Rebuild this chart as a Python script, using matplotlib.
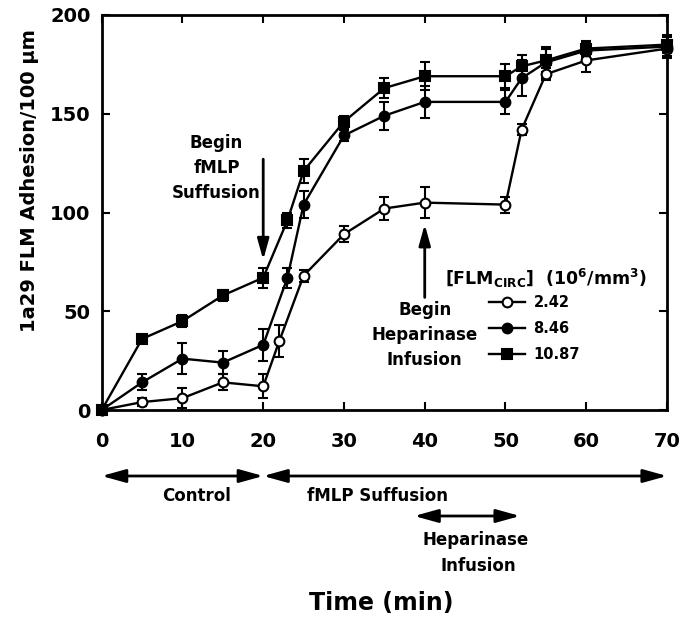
import matplotlib
matplotlib.use("Agg")
import matplotlib.pyplot as plt
import matplotlib.transforms as mtransforms
from matplotlib.lines import Line2D

plt.rcParams["font.family"] = "DejaVu Sans"
plt.rcParams["font.weight"] = "bold"
plt.rcParams["mathtext.default"] = "regular"

# time points (min) and adhesion values for each [FLM_CIRC] level
t_low = [0, 5, 10, 15, 20, 22, 25, 30, 35, 40, 50, 52, 55, 60, 70]
y_low = [0, 4, 6, 14, 12, 35, 68, 89, 102, 105, 104, 142, 170, 177, 183]
e_low = [0, 2, 5, 4, 6, 8, 3, 4, 6, 8, 4, 3, 3, 6, 4]

t_mid = [0, 5, 10, 15, 20, 23, 25, 30, 35, 40, 50, 52, 55, 60, 70]
y_mid = [0, 14, 26, 24, 33, 67, 104, 139, 149, 156, 156, 168, 176, 182, 184]
e_mid = [0, 4, 8, 6, 8, 5, 7, 3, 7, 8, 6, 9, 8, 4, 6]

t_high = [0, 5, 10, 15, 20, 23, 25, 30, 35, 40, 50, 52, 55, 60, 70]
y_high = [0, 36, 45, 58, 67, 96, 121, 146, 163, 169, 169, 174, 177, 183, 185]
e_high = [0, 2, 3, 3, 5, 4, 6, 3, 5, 7, 6, 6, 6, 4, 4]

labels = ["2.42", "8.46", "10.87"]
x_ticks = [0, 10, 20, 30, 40, 50, 60, 70]
y_ticks = [0, 50, 100, 150, 200]

W, H = 682, 624
fig = plt.figure(figsize=(W / 100, H / 100), dpi=100)
ax = fig.add_axes([101.7 / W, 1 - 410 / H, (667 - 101.7) / W, (410 - 15) / H])


def fy(py):
    return 1 - py / H


def fx(px):
    return px / W


series = [
    (t_low, y_low, e_low, "o", "white"),
    (t_mid, y_mid, e_mid, "o", "black"),
    (t_high, y_high, e_high, "s", "black"),
]
for t, y, e, m, fc in series:
    ax.errorbar(t, y, yerr=e, color="black", lw=1.7, marker=m, ms=7,
                mfc=fc, mec="black", mew=1.5, capsize=3.5, capthick=1.5,
                elinewidth=1.5, clip_on=False, zorder=3)

ax.set_xlim(0, 70)
ax.set_ylim(0, 200)
ax.set_xticks(x_ticks)
ax.set_yticks(y_ticks)
ax.tick_params(direction="in", length=6, width=1.5, top=True, right=True,
               labelsize=14)
ax.tick_params(axis="x", pad=16)
ax.tick_params(axis="y", pad=8)
for lab in ax.get_xticklabels() + ax.get_yticklabels():
    lab.set_fontweight("bold")
for s in ax.spines.values():
    s.set_linewidth(2)

fig.text(fx(30), fy(181), "1a29 FLM Adhesion/100 \u00b5m", rotation=90,
         ha="center", va="center", fontsize=14, fontweight="bold")

# in-plot annotations
ax.text(14.2, 122.5, "Begin\nfMLP\nSuffusion", ha="center", va="center",
        fontsize=12, fontweight="bold", linespacing=1.5)
ax.annotate("", xy=(20, 76), xytext=(20, 127),
            arrowprops=dict(arrowstyle="-|>,head_length=0.9,head_width=0.25",
                            mutation_scale=14, lw=2, color="black",
                            shrinkA=0, shrinkB=0))
ax.text(40, 38, "Begin\nHeparinase\nInfusion", ha="center", va="center",
        fontsize=12, fontweight="bold", linespacing=1.5)
ax.annotate("", xy=(40, 94), xytext=(40, 57),
            arrowprops=dict(arrowstyle="-|>,head_length=0.9,head_width=0.25",
                            mutation_scale=14, lw=2, color="black",
                            shrinkA=0, shrinkB=0))

# legend: title as its own text, entries below it
fig.text(fx(445), fy(278), "[FLM$_{CIRC}$]  (10$^{6}$/mm$^{3}$)",
         ha="left", va="center", fontsize=12.5, fontweight="bold")
handles = [Line2D([], [], color="black", lw=1.7, marker=m, ms=7, mfc=fc,
                  mec="black", mew=1.5) for _, _, _, m, fc in series]
ax.legend(handles, labels, loc="upper left",
          bbox_to_anchor=(fx(489), fy(295)),
          bbox_transform=fig.transFigure, frameon=False, borderpad=0,
          borderaxespad=0, prop={"size": 10.5, "weight": "bold"},
          handlelength=2.5, labelspacing=0.75, handletextpad=0.55)

# phase arrows below the axis
trans = mtransforms.blended_transform_factory(ax.transData, fig.transFigure)
arrow_kw = dict(arrowstyle="<|-|>,head_length=0.9,head_width=0.25",
                mutation_scale=16, lw=2, color="black", shrinkA=0, shrinkB=0)
ax.annotate("", xy=(0, fy(476)), xytext=(20, fy(476)), xycoords=trans,
            textcoords=trans, arrowprops=arrow_kw, annotation_clip=False)
ax.annotate("", xy=(20, fy(476)), xytext=(70, fy(476)), xycoords=trans,
            textcoords=trans, arrowprops=arrow_kw, annotation_clip=False)
ax.annotate("", xy=(38.7, fy(516)), xytext=(51.8, fy(516)), xycoords=trans,
            textcoords=trans, arrowprops=arrow_kw, annotation_clip=False)

ax.text(11.8, fy(496), "Control", transform=trans, ha="center", va="center",
        fontsize=12, fontweight="bold")
ax.text(34.2, fy(496), "fMLP Suffusion", transform=trans, ha="center",
        va="center", fontsize=12, fontweight="bold")
ax.text(46.3, fy(540), "Heparinase", transform=trans, ha="center",
        va="center", fontsize=12, fontweight="bold")
ax.text(46.6, fy(566), "Infusion", transform=trans, ha="center",
        va="center", fontsize=12, fontweight="bold")
ax.text(34.6, fy(603), "Time (min)", transform=trans, ha="center",
        va="center", fontsize=17, fontweight="bold")

fig.savefig("out.png", dpi=100)
